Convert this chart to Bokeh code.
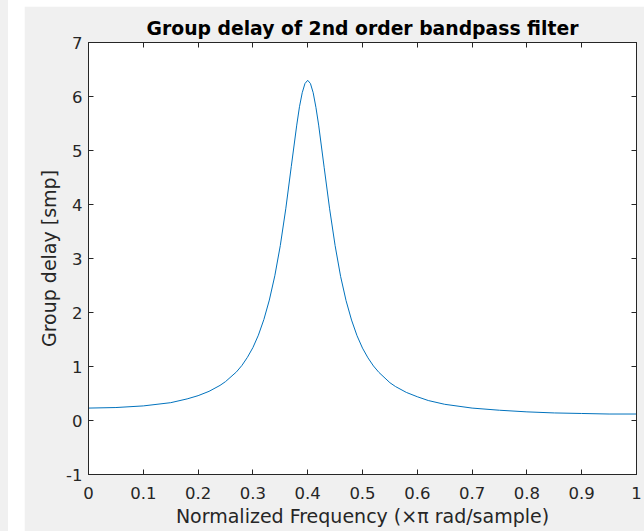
from bokeh.plotting import figure
from bokeh.models import Range1d, LinearAxis, FixedTicker, Div
from bokeh.layouts import row, column
from bokeh.embed import file_html
from bokeh.resources import INLINE

# ---- data ----
freq = [0, 0.05, 0.1, 0.15, 0.18, 0.2, 0.22, 0.24, 0.25, 0.27, 0.28, 0.29, 0.3, 0.31,
        0.32, 0.33, 0.34, 0.35, 0.36, 0.37, 0.38, 0.385, 0.39, 0.395, 0.4, 0.405, 0.41,
        0.415, 0.42, 0.43, 0.44, 0.45, 0.46, 0.47, 0.48, 0.49, 0.5, 0.51, 0.52, 0.53,
        0.55, 0.56, 0.58, 0.6, 0.62, 0.65, 0.7, 0.75, 0.8, 0.85, 0.9, 0.95, 1.0]
delay = [0.23, 0.24, 0.27, 0.33, 0.40, 0.46, 0.54, 0.65, 0.72, 0.90, 1.02, 1.17, 1.35, 1.58,
         1.87, 2.23, 2.68, 3.24, 3.92, 4.70, 5.47, 5.81, 6.07, 6.24, 6.30, 6.24, 6.07,
         5.80, 5.47, 4.69, 3.92, 3.24, 2.67, 2.22, 1.86, 1.57, 1.34, 1.16, 1.01, 0.89,
         0.70, 0.63, 0.52, 0.44, 0.37, 0.30, 0.23, 0.19, 0.16, 0.14, 0.13, 0.12, 0.12]

x_ticks = [0, 0.1, 0.2, 0.3, 0.4, 0.5, 0.6, 0.7, 0.8, 0.9, 1]
x_tick_labels = ["0", "0.1", "0.2", "0.3", "0.4", "0.5", "0.6", "0.7", "0.8", "0.9", "1"]
y_ticks = [-1, 0, 1, 2, 3, 4, 5, 6, 7]
y_tick_labels = ["-1", "0", "1", "2", "3", "4", "5", "6", "7"]

title_text = "Group delay of 2nd order bandpass filter"
x_label = "Normalized Frequency (\u00d7\u03c0 rad/sample)"
y_label = "Group delay [smp]"

# ---- style ----
BG = "#f0f0f0"
AX = "#262626"
FONT = "DejaVu Sans"
LINE = "#0072BD"

p = figure(width=620, height=525, output_backend="svg", toolbar_location=None,
           x_range=Range1d(0, 1), y_range=Range1d(-1, 7),
           min_border_left=64, min_border_right=8, min_border_top=36, min_border_bottom=57,
           background_fill_color="white", border_fill_color=BG, margin=0)
p.outline_line_color = AX
p.outline_line_width = 1
p.xgrid.visible = False
p.ygrid.visible = False

p.line(freq, delay, line_color=LINE, line_width=1)

p.add_layout(LinearAxis(), "above")
p.add_layout(LinearAxis(), "right")

def style_axis(ax, ticks, labels, show):
    ax.ticker = FixedTicker(ticks=ticks)
    ax.major_label_overrides = {t: l for t, l in zip(ticks, labels)}
    ax.axis_line_color = AX
    ax.major_tick_line_color = AX
    ax.major_tick_in = 5
    ax.major_tick_out = 0
    ax.minor_tick_line_color = None
    ax.major_label_text_font = FONT
    if show:
        ax.major_label_text_color = AX
        ax.major_label_text_font_size = "16.5px"
    else:
        ax.major_label_text_color = None
        ax.major_label_text_font_size = "1px"
        ax.major_label_standoff = 0

for ax in p.below:
    style_axis(ax, x_ticks, x_tick_labels, True)
    ax.major_label_standoff = 12
    ax.axis_label = x_label
    ax.axis_label_standoff = 3
for ax in p.above:
    style_axis(ax, x_ticks, x_tick_labels, False)
for ax in p.left:
    style_axis(ax, y_ticks, y_tick_labels, True)
    ax.major_label_standoff = 6
    ax.axis_label = y_label
    ax.axis_label_standoff = 3
for ax in p.right:
    style_axis(ax, y_ticks, y_tick_labels, False)

for ax in p.below + p.left:
    ax.axis_label_text_font = FONT
    ax.axis_label_text_font_size = "19px"
    ax.axis_label_text_font_style = "normal"
    ax.axis_label_text_color = AX

p.title.text = title_text
p.title.align = "center"
p.title.text_font = FONT
p.title.text_font_size = "18.8px"
p.title.text_font_style = "bold"
p.title.text_color = "black"
p.title.standoff = 8

strip1 = Div(width=8, height=531, margin=0, styles={"background-color": BG})
strip2 = Div(width=16, height=531, margin=0, styles={"background-color": "white"})
topstrip = Div(width=620, height=6, margin=0, styles={"background-color": "white"})
layout = row(strip1, strip2, column(topstrip, p, spacing=0, margin=0), spacing=0, margin=0)

open("out.html", "w").write(file_html(layout, INLINE))
